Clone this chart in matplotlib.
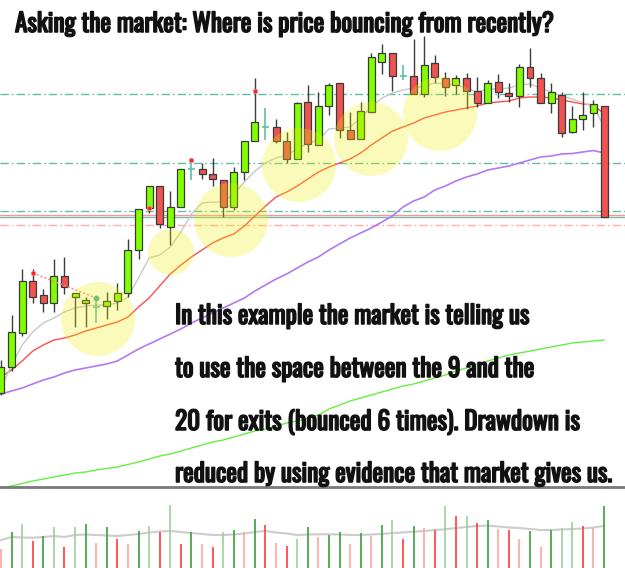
import matplotlib
matplotlib.use('Agg')
import matplotlib.pyplot as plt
import matplotlib.patheffects as pe
from matplotlib import font_manager
from matplotlib.patches import Ellipse
import numpy as np

# ---------------- data (price units, arbitrary) ----------------
opens  = [107,133,167,219,205,197,224,203,197,193,194,199,207,250,292,314,273,293,331,331,
          326,320,293,328,359,373,373,359,341,398,355,394,417,370,361,388,438,447,424,424,
          406,437,422,415,422,409,397,418,407,404,433,422,397,405,368,381,387,394]
highs  = [140,185,231,231,211,241,243,207,203,203,208,217,261,291,314,314,309,331,337,337,
          342,320,333,359,422,392,381,368,398,415,408,417,417,388,398,447,456,447,435,461,
          464,445,428,425,427,423,420,426,417,436,452,427,417,408,394,408,400,394]
lows   = [105,129,164,197,188,188,206,173,173,177,181,190,203,241,287,272,255,293,320,321,
          314,283,290,320,359,360,357,337,341,348,355,385,362,361,361,388,426,409,420,406,
          403,417,404,406,391,393,397,402,398,393,413,397,387,363,367,370,373,283]
closes = [133,168,219,203,197,224,213,207,200,193,199,207,250,291,314,276,293,331,331,326,
          321,293,328,359,378,373,359,341,397,356,394,415,370,361,389,443,447,424,424,406,
          435,423,413,422,409,397,417,408,404,433,422,397,408,367,381,385,396,283]

ma9   = [112,135,155,168,177,182,188,192,194,195,195,197,203,222,242,245,253,268,286,297,
         298,298,306,318,329,337,342,345,351,357,360,371,372,373,382,393,402,407,410,412,
         414,417,416,415,412,408,411,411,412,415,416,412,408,404,401,397,394,373]
ma20  = [123,130,139,149,155,160,162,165,169,172,175,178,183,193,202,214,226,235,243,250,
         257,262,266,274,284,294,303,308,314,321,328,333,337,341,347,355,362,369,373,377,
         382,385,388,390,392,394,397,398,399,402,403,403,402,400,398,396,395,386]
ma50  = [106,109,112,116,120,123,127,130,132,134,136,139,145,151,156,161,166,171,177,182,
         187,192,197,202,209,215,221,226,232,238,243,250,256,262,267,272,278,284,293,299,
         303,310,314,319,323,326,330,332,334,337,340,343,344,346,346.5,348,349.5,347]
ma200 = [12,14,16.5,19,21,23,25,27,28,30,31.5,33,35.5,38,41,44,46,49,52,55,
         58,60,63,66,69,71,74,77,79,82,85,91,95,99,102,105,108,111,114,116,
         119,122,125,129,132,136,139,142,145,147,149,151,153,155,157,158,159,160]

volumes = [18.7,36.3,44.3,26.7,32,41.3,20.7,41,43.7,25,41,29,24,37,42,36.3,63.3,24,36,24,
           21.3,35.7,38,36.3,49,43,24.7,22.3,29,40.7,31.3,32.7,36.3,24,34.7,32.3,43,47.7,29,42.3,
           40.3,37.7,62,51.7,52,44.7,47.7,39,37.7,29,36.7,21,38,40.3,46.3,42.3,39.7,62]
vol_kind = ['pk','dg','lg','rd','dg','lg','rd','lg','dg','pk','dg','rd','pk','dg','lg','rd','lg','rd','dg','pk',
            'rd','lg','dg','pk','dg','rd','pk','rd','lg','dg','pk','dg','dg','pk','dg','pk','dg','lg','rd','dg',
            'pk','rd','lg','rd','lg','rd','dg','pk','rd','pk','dg','pk','dg','lg','lg','rd','pk','dg']
vol_ma = [28,31,30.5,30.3,31,32,31,33,33.5,33,32.5,32,33,34,35.5,36.5,37,36,35,34,
          33,33,33.5,34.5,36,37,35.5,34.5,33,33.5,33.7,33.7,33.5,33,33,33.5,34,35,35.5,36.3,
          37,38,38.7,40,41,42,42.3,41.5,40.5,40,39,38,38,38.5,39,39.5,40.5,42]

sig_red_idx = [3, 14, 18, 24]
sig_red_val = [227, 292, 340, 409]
sig_teal_idx = [9]
sig_teal_val = [202]

levels_dashdot_teal = [406, 337, 289]
level_solid_pink = 284.7
level_solid_teal = 283
level_dashdot_pink = 275.3

circle_idx = [9.17, 16.07, 21.74, 28.17, 34.97, 41.49]
circle_val = [181, 248, 280, 335, 361, 386]
circle_rpx = [37, 23, 37, 37, 37, 37]

title = "Asking the market: Where is price bouncing from recently?"
body_lines = ["In this example the market is telling us",
              "to use the space between the 9 and the",
              "20 for exits (bounced 6 times). Drawdown is",
              "reduced by using evidence that market gives us."]

# ---------------- figure ----------------
W, H = 625, 568
fig = plt.figure(figsize=(W/100, H/100), dpi=100)
sep = 487
ax = fig.add_axes([0, (H-sep)/H, 1, sep/H])
axv = fig.add_axes([0, 0, 1, (H-sep)/H])
px_per_bar = 10.58
n = len(opens)
ax.set_xlim(-1/px_per_bar, (W-1)/px_per_bar)
ax.set_ylim(500-sep, 500)
axv.set_xlim(-1/px_per_bar, (W-1)/px_per_bar)
axv.set_ylim(0, H-sep)
for a in (ax, axv):
    a.set_xticks([]); a.set_yticks([])
    for s in a.spines.values():
        s.set_visible(False)
axv.spines['top'].set_visible(True)
axv.spines['top'].set_color('#7a7a7a')
axv.spines['top'].set_linewidth(2)

x = np.arange(n)
dd = (0, (6, 2.2, 1.2, 2.2))
for lv in levels_dashdot_teal:
    ax.axhline(lv, color='#5fbfa5', lw=1, ls=dd, zorder=1)
ax.axhline(level_solid_pink, color='#f29a9a', lw=1, zorder=1)
ax.axhline(level_solid_teal, color='#7fb8b0', lw=1, zorder=1)
ax.axhline(level_dashdot_pink, color='#ffadad', lw=1, ls=dd, zorder=1)

ax.plot(x, ma200, color='#66ee44', lw=1, zorder=2)
ax.plot(x, ma50, color='#b07af0', lw=1.2, zorder=2)
ax.plot(x, ma20, color='#ff4d4d', lw=1, zorder=2)
ax.plot(x, ma9, color='#c8c8c8', lw=1, zorder=2)

bw = 0.66
for i in range(n):
    o, h, l, c = opens[i], highs[i], lows[i], closes[i]
    if o == c:
        ax.vlines(i, l, h, color='#5fbfa5', lw=1.2, zorder=3)
        ax.hlines(o, i-bw/2, i+bw/2, color='#5fbfa5', lw=1.2, zorder=3)
        continue
    ax.vlines(i, l, h, color='#3c3c3c', lw=1, zorder=3)
    up = c > o
    ax.bar(i, abs(c-o), bottom=min(o, c), width=bw,
           color='#80ff00' if up else '#ef5350', edgecolor='#3a3a3a', lw=0.9, zorder=4)

ax.plot([sig_red_idx[0], sig_teal_idx[0]], [sig_red_val[0], sig_teal_val[0]],
        color='#ff8080', lw=1, ls=(0, (1.5, 1.5)), zorder=5)
ax.plot(sig_red_idx, sig_red_val, 'o', color='#ff2020', ms=3.2, mec='#ff8080', mew=0.5, ls='none', zorder=6)
ax.plot(sig_teal_idx, sig_teal_val, 'o', color='#40b0a0', ms=3.2, ls='none', zorder=6)

for cx, cy, r in zip(circle_idx, circle_val, circle_rpx):
    ax.add_patch(Ellipse((cx, cy), 2*r/px_per_bar, 2*r, facecolor='#f0f000',
                         edgecolor='none', alpha=0.27, zorder=7))

vcol = {'dg': '#3c9c3c', 'lg': '#9ccf9c', 'rd': '#ff3b3b', 'pk': '#ffa3a3'}
axv.vlines(x, 0, volumes, colors=[vcol[k] for k in vol_kind], lw=1.2, zorder=2)
axv.plot(x, vol_ma, color='#cccccc', lw=1.5, zorder=1)

# ---------------- text ----------------
avail = {f.name for f in font_manager.fontManager.ttflist}
cands = ['Oswald', 'Liberation Sans Narrow', 'DejaVu Sans']
font = next((c for c in cands if c in avail), 'DejaVu Sans')
bold = [pe.withStroke(linewidth=1.1, foreground='#111111')]

texts = []
t = fig.text(15/W, 1-32/H, title, family=[font, 'DejaVu Sans'], weight='bold',
             fontsize=20, va='baseline', ha='left', color='#111111', zorder=10,
             path_effects=bold)
texts.append((t, 540))
baselines = [324, 377, 430, 482]
targets = [355, 360, 406, 438]
for s, b, tw in zip(body_lines, baselines, targets):
    t = fig.text(175/W, 1-b/H, s, family=[font, 'DejaVu Sans'], weight='bold',
                 fontsize=18, va='baseline', ha='left', color='#111111', zorder=10,
                 path_effects=bold)
    texts.append((t, tw))
fig.canvas.draw()
r = fig.canvas.get_renderer()
for t, tw in texts:
    w = t.get_window_extent(r).width
    t.set_fontsize(t.get_fontsize()*tw/w)

fig.savefig('out.png', dpi=100)
